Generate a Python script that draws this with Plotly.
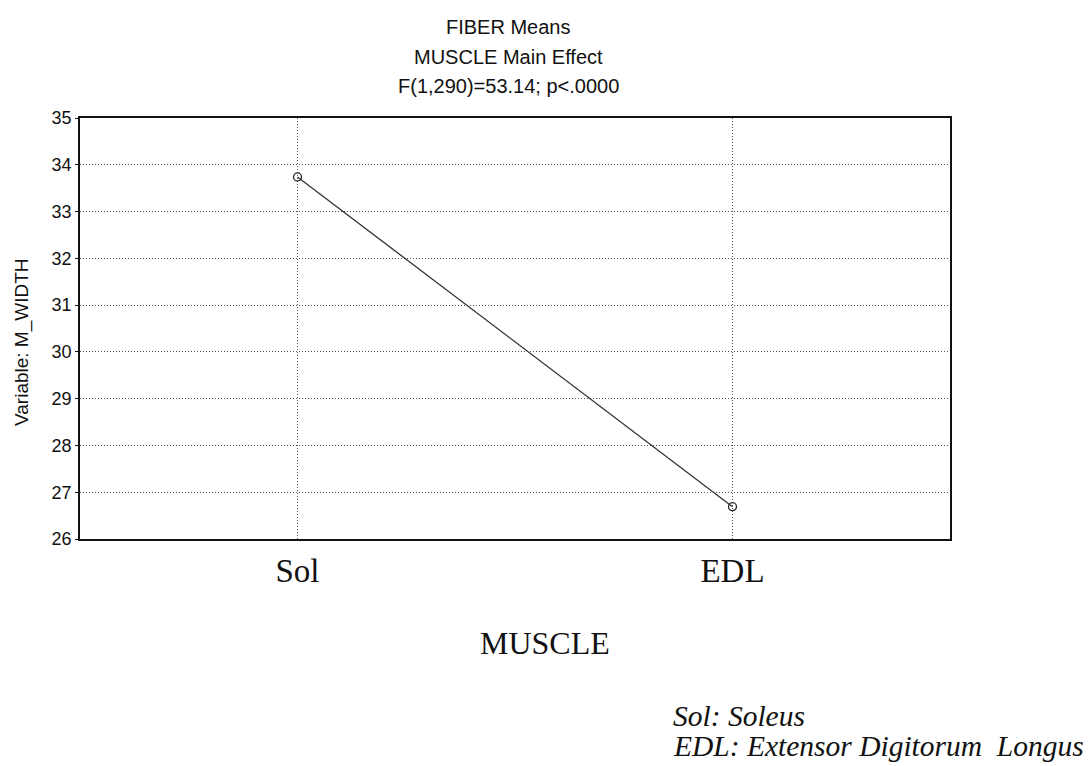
import plotly.graph_objects as go

categories = ["Sol", "EDL"]
means = [33.74, 26.69]
y_ticks = [26, 27, 28, 29, 30, 31, 32, 33, 34, 35]

title_lines = ["FIBER Means", "MUSCLE Main Effect", "F(1,290)=53.14; p<.0000"]
y_title = "Variable: M_WIDTH"
x_title = "MUSCLE"
notes = ["Sol: Soleus", "EDL: Extensor Digitorum  Longus"]

fig = go.Figure()
fig.add_trace(go.Scatter(
    x=categories, y=means, mode="lines+markers",
    line=dict(color="#333333", width=1.3),
    marker=dict(symbol="circle-open", size=8, color="#222222", line=dict(width=1.3)),
    showlegend=False,
))

W, H = 1088, 766
L, R, T, B = 80, 950, 118, 539
ph = B - T

def py(p):
    return (B - p) / ph

annos = []
for i, t in enumerate(title_lines):
    annos.append(dict(text=t, x=(508 - L) / (R - L), xref="paper", y=py(27 + 29.5 * i), yref="paper",
                      xanchor="center", yanchor="middle", showarrow=False,
                      font=dict(family="Liberation Sans, Arial", size=20, color="#111")))
annos.append(dict(text=y_title, x=(22 - L) / (R - L), xref="paper", y=py(342), yref="paper",
                  textangle=-90, xanchor="center", yanchor="middle", showarrow=False,
                  font=dict(family="Liberation Sans, Arial", size=19, color="#111")))
annos.append(dict(text=x_title, x=(545 - L) / (R - L), xref="paper", y=py(643), yref="paper",
                  xanchor="center", yanchor="middle", showarrow=False,
                  font=dict(family="Liberation Serif, Times New Roman", size=32, color="#111")))
for i, t in enumerate(notes):
    annos.append(dict(text="<i>" + t + "</i>", x=(671 - L) / (R - L), xref="paper",
                      y=py(716 + 30 * i), yref="paper",
                      xanchor="left", yanchor="middle", showarrow=False,
                      font=dict(family="Liberation Serif, Times New Roman", size=29.5, color="#111")))

fig.update_layout(
    width=W, height=H,
    margin=dict(l=L, r=W - R, t=T, b=H - B),
    paper_bgcolor="white", plot_bgcolor="white",
    annotations=annos,
    xaxis=dict(
        type="category", range=[-0.5, 1.5],
        showgrid=True, gridcolor="#555", griddash="1px,2px", gridwidth=1.2,
        showline=True, linecolor="#111", linewidth=1.5, mirror=True,
        ticks="", tickfont=dict(family="Liberation Serif, Times New Roman", size=33, color="#111"),
        ticklabelstandoff=2,
    ),
    yaxis=dict(
        range=[26, 35], tickvals=y_ticks, ticktext=[str(v) for v in y_ticks],
        showgrid=True, gridcolor="#555", griddash="1px,2px", gridwidth=1.2,
        showline=True, linecolor="#111", linewidth=1.5, mirror=True,
        ticks="outside", ticklen=3, tickcolor="#111",
        tickfont=dict(family="Liberation Sans, Arial", size=18, color="#111"),
        zeroline=False,
    ),
)

fig.write_html("out.html")
